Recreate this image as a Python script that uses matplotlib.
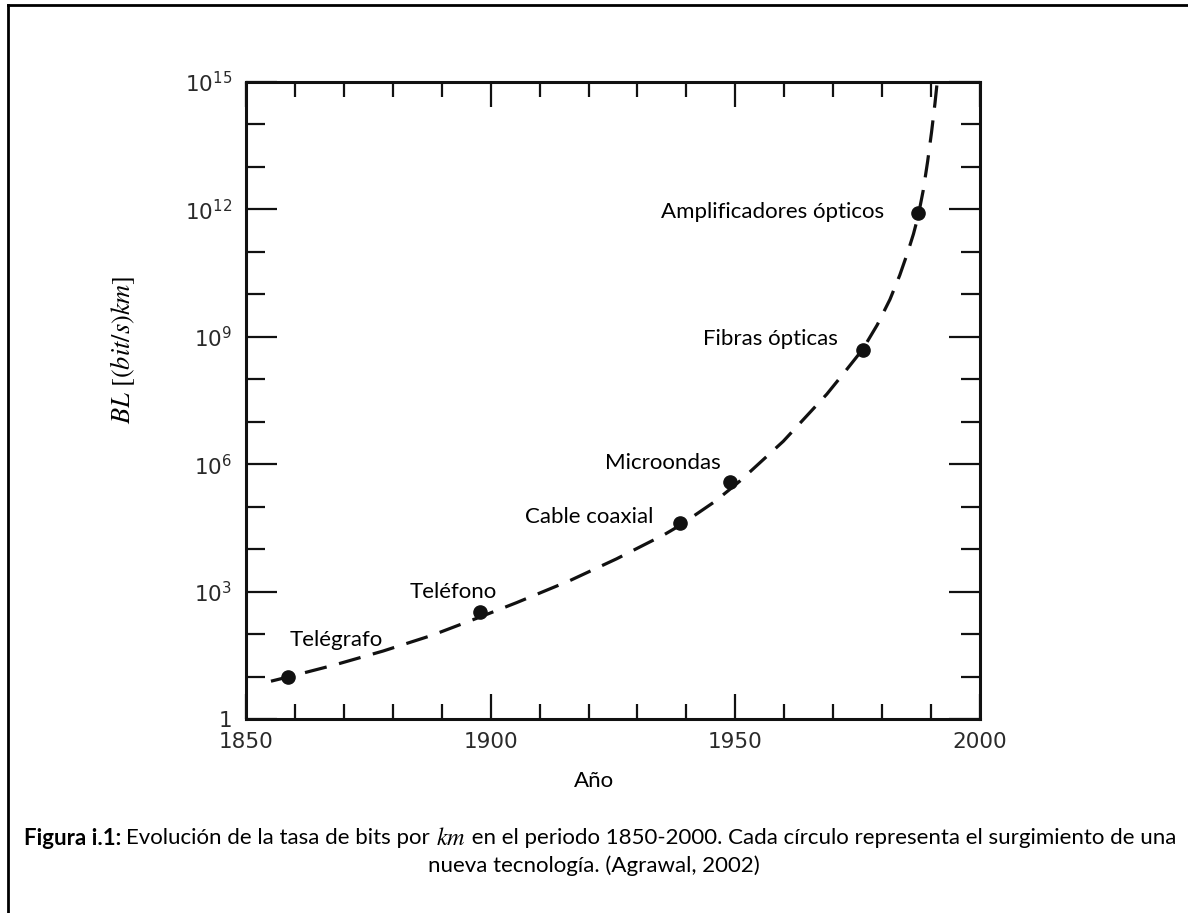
import numpy as np
import matplotlib
matplotlib.use("Agg")
import matplotlib.pyplot as plt
from matplotlib.ticker import FixedLocator, FixedFormatter, NullFormatter
from matplotlib.lines import Line2D

plt.rcParams['mathtext.fontset'] = 'stix'

# ---- data ----
curve_year = [1855.1, 1858.6, 1868.0, 1878.0, 1888.0, 1897.8, 1905.3,
              1916.2, 1925.7, 1935.6, 1938.7, 1945.8, 1948.9, 1951.0, 1959.8,
              1968.7, 1972.0, 1976.0, 1979.0, 1981.6, 1983.6, 1985.2, 1986.4,
              1987.4, 1988.4, 1989.3, 1990.1, 1990.8, 1991.3]
curve_exp = [0.89, 0.99, 1.27, 1.60, 1.97, 2.40, 2.74,
             3.26, 3.77, 4.35, 4.56, 5.12, 5.41, 5.61, 6.54,
             7.65, 8.12, 8.70, 9.28, 9.88, 10.45, 10.98, 11.42,
             11.86, 12.45, 13.13, 13.82, 14.50, 15.05]

tech_names = ["Telégrafo", "Teléfono", "Cable coaxial", "Microondas",
              "Fibras ópticas", "Amplificadores ópticos"]
tech_year = [1858.6, 1897.8, 1938.7, 1948.9, 1976.0, 1987.4]
tech_exp = [0.99, 2.53, 4.61, 5.57, 8.70, 11.92]

x_major = [1850, 1900, 1950, 2000]
x_minor = list(range(1850, 2001, 10))
y_major_exp = [0, 3, 6, 9, 12, 15]
y_major_labels = ["1", r"$\mathregular{10^{3}}$", r"$\mathregular{10^{6}}$",
                  r"$\mathregular{10^{9}}$", r"$\mathregular{10^{12}}$",
                  r"$\mathregular{10^{15}}$"]
y_minor_exp = list(range(0, 16))

# label placement (layout only): (anchor year, anchor exponent, ha)
label_pos = [(1858.9, 1.86, "left"), (1883.5, 2.99, "left"), (1907.0, 4.76, "left"),
             (1923.4, 6.03, "left"), (1971.0, 8.95, "right"), (1980.4, 11.94, "right")]

fig = plt.figure(figsize=(11.88, 9.13), dpi=100)
ax = fig.add_axes([246/1188, 1-719/913, (980-246)/1188, (719-82)/913])

ax.set_yscale("log")
ax.set_xlim(1850, 2000)
ax.set_ylim(1, 1e15)

ink = "#111111"
ax.plot(curve_year, [10**e for e in curve_exp], color=ink, lw=2.3,
        linestyle=(0, (7, 4)), dash_capstyle="butt")
ax.plot(tech_year, [10**e for e in tech_exp], "o", color=ink, ms=9.5)

annot_font = "Lato"
for name, (lx, ly, ha) in zip(tech_names, label_pos):
    ax.text(lx, 10**ly, name, ha=ha, va="center", fontsize=16,
            family=annot_font, color="black")

# ticks
ax.xaxis.set_major_locator(FixedLocator(x_major))
ax.xaxis.set_minor_locator(FixedLocator(x_minor))
ax.yaxis.set_major_locator(FixedLocator([10**e for e in y_major_exp]))
ax.yaxis.set_major_formatter(FixedFormatter(y_major_labels))
ax.yaxis.set_minor_locator(FixedLocator([10**e for e in y_minor_exp]))
ax.yaxis.set_minor_formatter(NullFormatter())
ax.xaxis.set_minor_formatter(NullFormatter())

ax.tick_params(axis="x", which="both", direction="in", top=True, bottom=True,
               width=1.6, color=ink, labelsize=15.5, labelcolor="#2a2a2a", pad=9)
ax.tick_params(axis="x", which="major", length=18)
ax.tick_params(axis="x", which="minor", length=11)
ax.tick_params(axis="y", which="both", direction="in", left=True, right=True,
               width=1.6, color=ink, labelsize=15.5, labelcolor="#2a2a2a", pad=10)
ax.tick_params(axis="y", which="major", length=22)
ax.tick_params(axis="y", which="minor", length=14)
for s in ax.spines.values():
    s.set_linewidth(2.2)
    s.set_color(ink)

# axis labels
fig.text(123/1188, 1-350/913, r"$BL\ [(bit/s)km]$", rotation=90, ha="center",
         va="center", fontsize=19)
fig.text(594/1188, 1-781/913, "Año", ha="center", va="center", fontsize=16,
         family=annot_font)

# caption (rich text line)
renderer = fig.canvas.get_renderer()

def rich_line(pieces, xc, yc):
    texts = []
    for s, kw in pieces:
        t = fig.text(0, yc, s, va="center", ha="left", **kw)
        texts.append(t)
    widths = [t.get_window_extent(renderer).width for t in texts]
    total = sum(widths)
    x = xc * fig.bbox.width - total / 2
    for t, w in zip(texts, widths):
        t.set_x(x / fig.bbox.width)
        x += w

cap_kw = dict(family=annot_font, fontsize=16)
rich_line([("Figura i.1: ", dict(family=annot_font, fontsize=16, weight="bold")),
           ("Evolución de la tasa de bits por ", cap_kw),
           (r"$km$", dict(fontsize=17.5)),
           (" en el periodo 1850-2000. Cada círculo representa el surgimiento de una", cap_kw)],
          600/1188, 1-838/913)
fig.text(594/1188, 1-866/913, "nueva tecnología. (Agrawal, 2002)", ha="center",
         va="center", **cap_kw)

# outer frame (left and top)
fig.add_artist(Line2D([8/1188, 8/1188], [0, 1-5/913], transform=fig.transFigure,
                      color="black", lw=2))
fig.add_artist(Line2D([8/1188, 1], [1-5/913, 1-5/913], transform=fig.transFigure,
                      color="black", lw=2))

fig.savefig("out.png", dpi=100)
